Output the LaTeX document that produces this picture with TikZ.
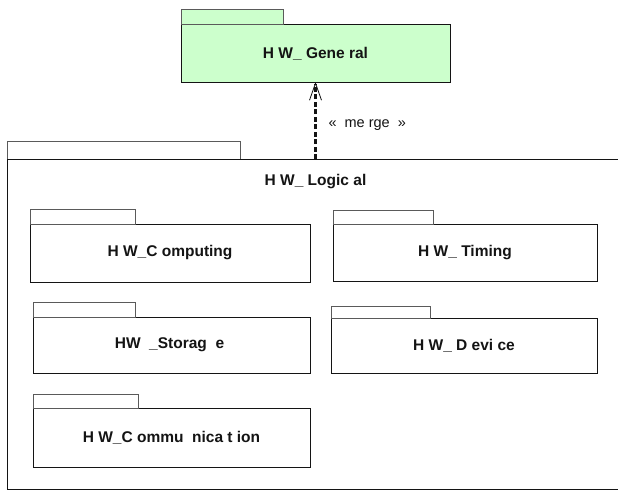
\documentclass[tikz,border=0pt]{standalone}
\usepackage{fontspec}
\setmainfont{Liberation Sans}
\usetikzlibrary{arrows.meta,positioning}
\definecolor{pkgg}{RGB}{204,255,204}
\definecolor{ink}{RGB}{20,20,20}

\begin{document}
\begin{tikzpicture}[
  x=1pt, y=-1pt, ink,
  every node/.style={inner sep=0pt, outer sep=0pt},
  pkgbody/.style={draw=ink, line width=1pt, fill=white, anchor=north west},
  pkgtab/.style={draw=ink!70, line width=0.7pt, fill=white, anchor=south west,
                 minimum height=15pt},
  pkgname/.style={font=\fontsize{15.5}{18}\selectfont\bfseries},
  mergeflow/.style={line width=3.2pt, dash pattern=on 5pt off 2.5pt,
                    -{Straight Barb[length=17pt, width=12pt, line width=0.8pt]}},
]
\clip (0,0) rectangle (618,491);
\fill[white] (0,0) rectangle (618,491);

%% ---- HW_General (merged package) ----
\node[pkgbody, fill=pkgg, minimum width=269pt, minimum height=58pt] (general) at (181,24) {};
\node[pkgtab, fill=pkgg, minimum width=102pt] (general-tab) at (general.north west) {};
\node[pkgname] (general-name) at ([yshift=-1pt]general.center) {H W\_ Gene ral};

%% ---- HW_Logical (outer package) ----
\node[pkgtab, minimum width=233pt, minimum height=18pt] (logical-tab) at (7,159) {};
\node[pkgbody, minimum width=630pt, minimum height=330pt] (logical) at (7,159) {};
\node[pkgname, below=15pt of logical.north -| general.south] (logical-name) {H W\_ Logic al};

%% ---- nested packages ----
\node[pkgbody, minimum width=280pt, minimum height=58pt] (computing) at (30,224) {};
\node[pkgtab, minimum width=105pt] (computing-tab) at (computing.north west) {};
\node[pkgname] at (computing.center) {H W\_C omputing};

\node[pkgbody, minimum width=264pt, minimum height=57pt] (timing) at (333,224) {};
\node[pkgtab, minimum width=100pt, minimum height=14pt] (timing-tab) at (timing.north west) {};
\node[pkgname] at (timing.center) {H W\_ Timing};

\node[pkgbody, minimum width=277pt, minimum height=56pt] (storage) at (33,317) {};
\node[pkgtab, minimum width=102pt] (storage-tab) at (storage.north west) {};
\node[pkgname] at ([xshift=-2pt]storage.center) {HW \ \_Storag \ e};

\node[pkgbody, minimum width=266pt, minimum height=55pt] (device) at (331,318) {};
\node[pkgtab, minimum width=99pt, minimum height=12pt] (device-tab) at (device.north west) {};
\node[pkgname] at (device.center) {H W\_ D evi ce};

\node[pkgbody, minimum width=277pt, minimum height=59pt] (communication) at (33,408) {};
\node[pkgtab, minimum width=105pt, minimum height=14pt] (communication-tab) at (communication.north west) {};
\node[pkgname] at (communication.center) {H W\_C ommu \ nica t ion};

%% ---- merge dependency ----
\draw[mergeflow] (general.south |- logical.north) -- (general.south)
  node[pos=0.44, right=13pt, font=\fontsize{14.5}{17}\selectfont] (merge-label) {« \ me rge \ »};

\end{tikzpicture}
\end{document}
